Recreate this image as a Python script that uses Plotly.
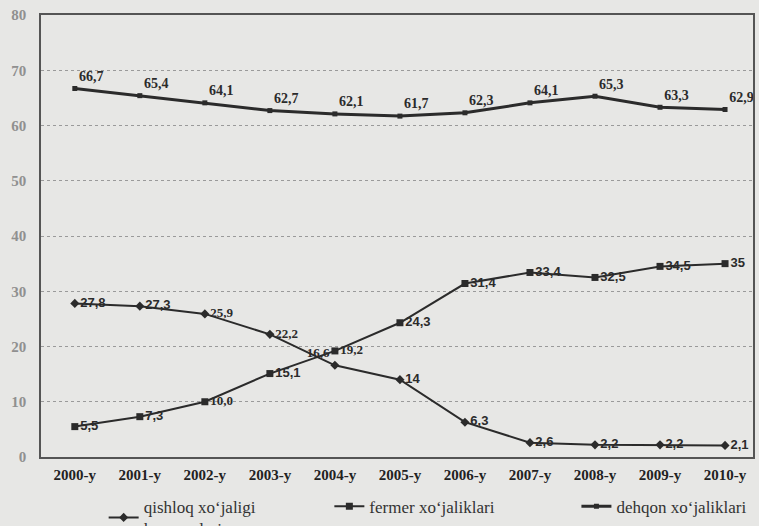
import plotly.graph_objects as go

years = ["2000-y", "2001-y", "2002-y", "2003-y", "2004-y", "2005-y",
         "2006-y", "2007-y", "2008-y", "2009-y", "2010-y"]
qishloq = [27.8, 27.3, 25.9, 22.2, 16.6, 14, 6.3, 2.6, 2.2, 2.2, 2.1]
fermer = [5.5, 7.3, 10.0, 15.1, 19.2, 24.3, 31.4, 33.4, 32.5, 34.5, 35]
dehqon = [66.7, 65.4, 64.1, 62.7, 62.1, 61.7, 62.3, 64.1, 65.3, 63.3, 62.9]
names = ["qishloq xoʻjaligi<br>korxonalari", "fermer xoʻjaliklari", "dehqon xoʻjaliklari"]
yticks = [0, 10, 20, 30, 40, 50, 60, 70, 80]


def lab(vals):
    return [str(v).replace(".", ",") for v in vals]


ink = "#2b2b2b"
bg = "#e7e7e5"
serif = "Liberation Serif"
sans = "Liberation Sans"

fig = go.Figure()

q_pos = ["middle right"] * len(years)
q_pos[4] = "top left"
q_fam = [sans] * len(years)
for i in (2, 3, 4):
    q_fam[i] = serif
fig.add_trace(go.Scatter(
    x=years, y=qishloq, name=names[0], mode="lines+markers+text",
    line=dict(color=ink, width=2),
    marker=dict(symbol="diamond", size=7, color=ink),
    text=lab(qishloq), textposition=q_pos,
    textfont=dict(family=q_fam, size=13, color=ink, weight="bold"),
    legend="legend",
))

f_fam = [sans] * len(years)
for i in (2, 4):
    f_fam[i] = serif
fig.add_trace(go.Scatter(
    x=years, y=fermer, name=names[1], mode="lines+markers+text",
    line=dict(color=ink, width=2),
    marker=dict(symbol="square", size=7, color=ink),
    text=lab(fermer), textposition="middle right",
    textfont=dict(family=f_fam, size=13, color=ink, weight="bold"),
    legend="legend2",
))

fig.add_trace(go.Scatter(
    x=years, y=dehqon, name=names[2], mode="lines+markers+text",
    line=dict(color=ink, width=3),
    marker=dict(symbol="square", size=5, color=ink),
    text=lab(dehqon), textposition="top right",
    textfont=dict(family=serif, size=14, color=ink, weight="bold"),
    legend="legend3",
))

leg_common = dict(yanchor="top", xanchor="left", y=-0.072,
                  font=dict(family=serif, size=17, color="#333"),
                  bgcolor="rgba(0,0,0,0)", borderwidth=0)
fig.update_layout(
    width=759, height=526,
    margin=dict(l=41, r=6, t=15, b=69, autoexpand=False),
    paper_bgcolor=bg, plot_bgcolor=bg,
    showlegend=True,
    legend=dict(x=0.088, **leg_common),
    legend2=dict(x=0.405, **leg_common),
    legend3=dict(x=0.752, **leg_common),
)
fig.update_xaxes(
    type="category", range=[-0.52, 10.43], showgrid=False,
    showline=True, linecolor="#555", linewidth=1.5, mirror=True,
    tickfont=dict(family=serif, size=15, color="#222", weight="bold"),
    ticks="", ticklabelstandoff=3,
)
fig.update_yaxes(
    range=[0, 80], tickvals=yticks, showgrid=True, gridcolor="#9a9a9a",
    griddash="dot", gridwidth=1, zeroline=False,
    showline=True, linecolor="#555", linewidth=1.5, mirror=True,
    tickfont=dict(family=serif, size=15, color="#909090", weight="bold"),
    ticks="", ticklabelstandoff=10,
)

fig.write_html(
    "out.html",
    config={"displayModeBar": False},
    post_script="document.body.style.margin='0';"
                "document.body.style.background='#e7e7e5';"
                "document.body.style.overflow='hidden';",
)
